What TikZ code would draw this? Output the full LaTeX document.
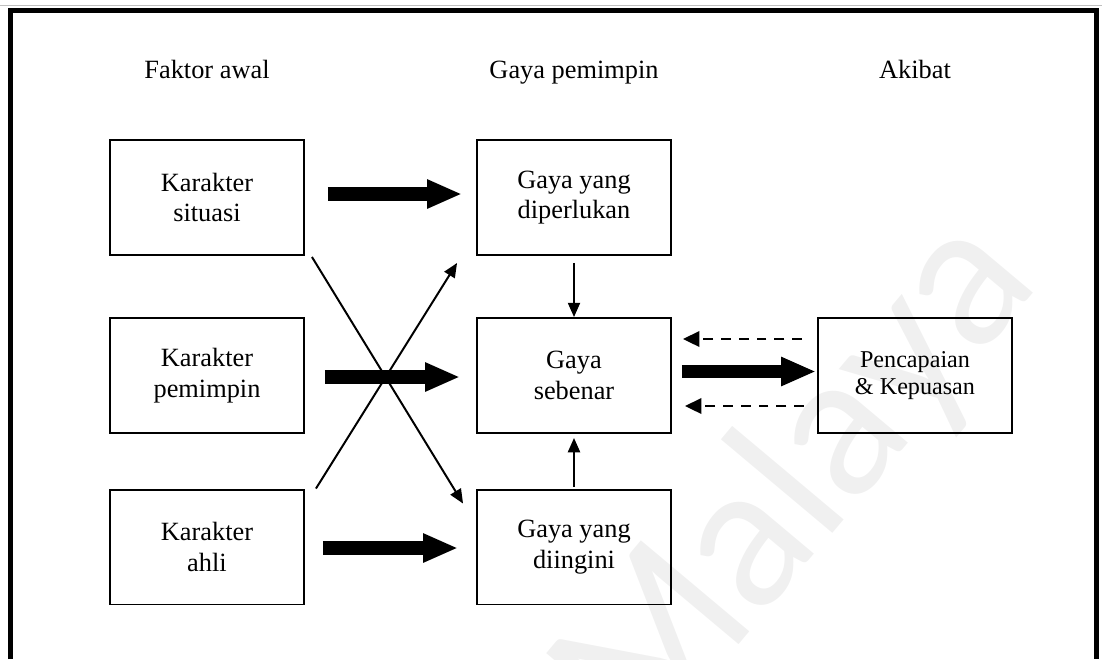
\documentclass[tikz,border=0pt]{standalone}
\usepackage{fontspec}
\setmainfont{Liberation Serif}
\newfontfamily\wmfont{Lato}
\usetikzlibrary{arrows.meta,calc}

\begin{document}
\begin{tikzpicture}[x=0.016cm, y=-0.016cm,
    box/.style={draw, line width=0.9pt, minimum width=3.104cm, minimum height=1.84cm,
                align=center, font=\fontsize{12}{14}\selectfont},
    head/.style={font=\fontsize{12}{14}\selectfont, anchor=base},
    fat/.style={line width=6.35pt, -{Triangle[length=15.9pt, width=12.2pt]}},
    thin/.style={line width=0.9pt, -{Triangle[length=6.5pt, width=5.5pt]}},
    back/.style={line width=1.1pt, dash pattern=on 4.5pt off 3.6pt,
                 -{Triangle[length=7.5pt, width=7pt]}}]
    \useasboundingbox (0,0) rectangle (1102,659);
    \node[rotate=50, text=black!6, font=\wmfont\fontsize{90}{90}\selectfont] (wm) at (800,485) {Malaya};
    \draw[gray!50, line width=0.5pt] (0,5.5) -- (1102,5.5);
    \draw[line width=2.3pt] (10.5,659) -- (10.5,10.5) -- (1096.5,10.5) -- (1096.5,659);

    \node[head] (faktor) at (207,78) {Faktor awal};
    \node[head] (gaya) at (574,78) {Gaya pemimpin};
    \node[head] (akibat) at (915,78) {Akibat};

    \node[box] (situasi) at (207,197.5) {Karakter\\situasi};
    \node[box] (pemimpin) at (207,375.5) {Karakter\\pemimpin};
    \node[box] (ahli) at (207,547) {Karakter\\ahli};
    \node[box] (perlu) at (574,197.5) {Gaya yang\\diperlukan};
    \node[box] (benar) at (574,375.5) {Gaya\\sebenar};
    \node[box] (ingin) at (574,547) {Gaya yang\\diingini};
    \node[box, font=\fontsize{11}{12.5}\selectfont] (hasil) at (915,375.5) {Pencapaian\\\& Kepuasan};

    \draw[fat] ($(situasi.east)+(23,-3.5)$) -- ($(perlu.west)+(-14,-3.5)$);
    \draw[fat] ($(pemimpin.east)+(20,1.5)$) -- ($(benar.west)+(-16,1.5)$);
    \draw[fat] ($(ahli.east)+(18,1)$) -- ($(ingin.west)+(-18,1)$);
    \draw[fat] ($(benar.east)+(10,-4)$) -- ($(hasil.west)+(-1,-4)$);

    \draw[thin] ($(situasi.south east)+(7,1)$) -- ($(ingin.north west)+(-13,15)$);
    \draw[thin] ($(ahli.north east)+(11,0)$) -- ($(perlu.south west)+(-19,7)$);
    \draw[thin] ($(perlu.south)+(0,7)$) -- (benar.north);
    \draw[thin] ($(ingin.north)+(0,-2)$) -- ($(benar.south)+(0,4)$);

    \draw[back] ($(hasil.west)+(-15,-36.5)$) -- ($(benar.east)+(11,-36.5)$);
    \draw[back] ($(hasil.west)+(-13,30.5)$) -- ($(benar.east)+(13,30.5)$);
\end{tikzpicture}
\end{document}
